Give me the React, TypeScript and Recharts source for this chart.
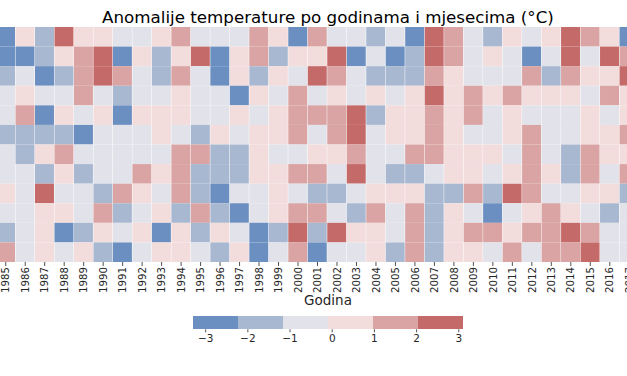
import React from "react";
import { BarChart, Bar, XAxis, YAxis, Cell } from "recharts";

// Godine (stupci) i mjeseci (redovi) toplinske karte
const years = [
  "1985", "1986", "1987", "1988", "1989", "1990", "1991", "1992", "1993", "1994", "1995",
  "1996", "1997", "1998", "1999", "2000", "2001", "2002", "2003", "2004", "2005", "2006",
  "2007", "2008", "2009", "2010", "2011", "2012", "2013", "2014", "2015", "2016", "2017",
];

// Anomalije po mjesecima (°C), jedna vrijednost po godini
const jan = [-2.6, 0.4, -1.5, 2.5, 0.3, 0.6, -0.5, -0.3, 0.7, 1.4, -0.6, -0.2, -0.8, 1.6, 0.5, -2.4, 1.3, -0.4, -0.7, -1.6, -0.3, -2.7, 2.8, 1.5, -0.5, -1.3, 0.2, -0.9, 0.6, 2.4, 1.7, 0.4, -2.5];
const feb = [-2.9, -2.5, -1.4, 0.8, 1.2, 2.6, -2.7, 0.3, -1.8, 0.5, 2.3, -2.6, 0.6, 1.8, -1.5, 0.2, 0.7, 2.4, -2.8, -0.6, -2.5, -1.7, 3.1, 1.4, -0.3, 0.4, -0.8, -3.3, -0.4, 2.7, -0.5, 2.5, 1.5];
const mar = [-1.6, -0.4, -2.5, -1.9, 1.5, 2.9, 1.3, -0.7, -1.4, 1.6, -0.2, -2.4, 0.5, -1.5, 0.8, -0.5, 2.5, 1.7, -0.9, -1.3, -2.0, -1.6, 1.4, 0.6, -0.3, -0.6, -0.4, 1.2, -1.8, 1.5, 0.4, 0.9, 2.6];
const apr = [-0.3, 0.5, -0.6, -0.8, 1.7, -0.2, -1.5, -0.4, -0.9, 0.3, -0.5, -0.7, -2.6, 0.7, -0.3, 1.4, -0.6, 0.4, -0.2, 0.8, -0.4, 0.2, 2.3, 0.6, 1.3, 0.5, 1.6, 0.3, 0.7, 0.9, -0.5, 1.2, 0.4];
const may = [-0.6, 1.3, -2.7, 0.4, -0.3, 0.6, -2.4, 0.2, 0.8, 0.5, -0.8, -0.4, 0.3, -0.7, 0.9, 1.5, 1.8, 1.4, 2.6, -1.4, 0.6, 0.3, 1.6, 0.7, 1.2, -0.5, 0.4, -0.2, -0.6, -0.9, 0.5, -0.3, 0.8];
const jun = [-1.8, -1.3, -1.6, -1.4, -2.5, -0.5, -0.2, -0.9, 0.6, -0.4, -1.7, 0.3, -0.6, 0.5, 0.2, 1.7, -0.3, 1.5, 2.7, -0.8, 0.7, 0.4, 1.3, 0.8, -0.4, -0.7, 0.6, 1.4, -0.5, -0.2, 0.3, 0.9, 1.1];
const jul = [-0.7, -1.5, 0.4, 1.5, -0.3, -0.6, -0.8, -0.4, -0.2, 1.6, 1.3, -1.9, -1.4, 0.7, -0.5, -0.9, 0.3, 0.6, 1.8, -0.6, -0.3, 1.2, 1.7, 0.5, 0.8, 0.2, -0.4, 1.5, -0.7, -1.3, 1.4, 0.6, 0.4];
const aug = [-0.4, -0.8, -1.6, 0.5, -1.3, -0.5, -0.2, 1.4, 0.3, 1.8, -1.5, -2.1, -1.7, 0.6, 0.8, 1.3, 1.6, -0.6, 2.5, -0.3, -1.4, -1.8, -0.7, 0.4, 0.2, -0.5, 0.7, 1.9, 0.5, -1.6, 1.3, -0.4, 1.5];
const sep = [0.6, -0.5, 2.6, -0.3, -0.7, -1.4, 1.5, 0.4, -0.6, 1.3, -1.7, -2.5, -0.4, -0.8, 0.7, -0.2, -1.5, -1.9, -0.5, 0.3, 0.8, 0.5, -1.3, -1.6, 1.4, -1.2, 2.4, 1.6, -0.3, -0.9, 0.2, 0.6, -1.5];
const oct = [-0.9, -0.4, 0.3, 0.7, -0.5, 1.6, -1.6, -0.3, 0.5, -1.4, 1.5, -1.8, -2.6, -0.6, 0.4, 1.3, 1.7, -0.2, -1.5, 1.4, -0.7, 1.8, -1.7, 0.6, -0.4, -2.5, -0.8, 0.3, 1.2, 0.7, -0.5, -1.4, -0.3];
const nov = [-1.5, -0.6, 0.5, -2.6, -1.7, 0.4, -0.3, 0.8, -2.9, 0.2, -1.4, 0.6, -0.5, -2.5, -1.6, 2.4, -1.3, 2.7, 0.5, 0.9, -0.8, 1.5, -1.9, 0.3, 1.6, 1.4, 0.7, 1.3, 1.7, 2.5, 1.2, -0.4, -0.6];
const dec = [1.4, -0.7, 0.6, -0.4, 0.3, -1.6, -2.7, -0.5, 0.8, 0.4, -0.3, -1.5, 0.5, -2.4, -0.8, 1.6, -2.6, -0.2, -0.6, 0.7, -1.4, 1.3, -1.7, 0.2, 0.6, -0.9, 1.5, -0.4, 1.8, 1.4, 2.6, -0.3, -0.5];

const months = [jan, feb, mar, apr, may, jun, jul, aug, sep, oct, nov, dec];
const monthKeys = ["m1", "m2", "m3", "m4", "m5", "m6", "m7", "m8", "m9", "m10", "m11", "m12"];

// Paleta u 6 razreda (plavo -> crveno)
const palette = ["#6b8fc0", "#a9b8d1", "#e2e3ea", "#f2dcdc", "#d9a4a3", "#c46b6a"];
const colorbarTicks = [-3, -2, -1, 0, 1, 2, 3];

const allValues = months.flat();
const vmin = Math.min(...allValues);
const vmax = Math.max(...allValues);
const step = (vmax - vmin) / palette.length;

const colorFor = (v: number) => {
  const idx = Math.floor((v - vmin) / step);
  return palette[Math.min(palette.length - 1, Math.max(0, idx))];
};

// Svaki redak je godina; mjeseci su složeni jedan na drugi (visina 1)
const heatData = years.map((year) => {
  const row: Record<string, string | number> = { year };
  monthKeys.forEach((k) => (row[k] = 1));
  return row;
});

// Skala boja: razredi složeni od vmin (os pomaknuta za vmin)
const barKeys = palette.map((_, i) => `c${i}`);
const colorbarData = [
  barKeys.reduce((row: Record<string, string | number>, k) => {
    row[k] = step;
    return row;
  }, { name: "cb" }),
];

const FONT = "DejaVu Sans";
const TEXT = "#262626";

const YearTick = ({ x, y, payload }: any) => (
  <text
    x={x}
    y={y}
    transform={`rotate(-90, ${x}, ${y})`}
    textAnchor="end"
    dy="0.36em"
    fontSize={10.2}
    fontFamily={FONT}
    fill={TEXT}
  >
    {payload.value}
  </text>
);

const minus = (v: number) => {
  const t = Math.round(v + vmin);
  return t < 0 ? `\u2212${-t}` : `${t}`;
};

export default function App() {
  return (
    <div
      style={{
        position: "fixed",
        left: 0,
        top: 0,
        width: 627,
        height: 376,
        overflow: "hidden",
        background: "#fff",
        fontFamily: FONT,
      }}
    >
      <svg width={627} height={376} style={{ position: "absolute", left: 0, top: 0 }}>
        <text x={328} y={23} textAnchor="middle" fontSize={16.7} fontFamily={FONT} fill="#000">
          Anomalije temperature po godinama i mjesecima (°C)
        </text>
        <text x={328} y={305} textAnchor="middle" fontSize={13.5} fontFamily={FONT} fill={TEXT}>
          Godina
        </text>
      </svg>

      <div style={{ position: "absolute", left: -3.7, top: 0 }}>
        <BarChart
          width={643}
          height={302}
          data={heatData}
          margin={{ top: 27, right: 0, bottom: 0, left: 0 }}
          barCategoryGap={0}
          barGap={0}
        >
          <XAxis
            dataKey="year"
            interval={0}
            height={40}
            axisLine={false}
            tickSize={4}
            tickMargin={1}
            tickLine={{ stroke: TEXT, strokeWidth: 0.8 }}
            tick={<YearTick />}
          />
          <YAxis hide reversed domain={[0, 12]} />
          {monthKeys.map((k, m) => (
            <Bar key={k} dataKey={k} stackId="heat" isAnimationActive={false}>
              {years.map((y, i) => (
                <Cell key={y} fill={colorFor(months[m][i])} />
              ))}
            </Bar>
          ))}
        </BarChart>
      </div>

      <div style={{ position: "absolute", left: 193.3, top: 316 }}>
        <BarChart
          width={270}
          height={40}
          layout="vertical"
          data={colorbarData}
          margin={{ top: 0, right: 0, bottom: 0, left: 0 }}
          barCategoryGap={0}
        >
          <XAxis
            type="number"
            domain={[0, vmax - vmin]}
            ticks={colorbarTicks.map((t) => t - vmin)}
            allowDataOverflow
            axisLine={false}
            height={26.7}
            tickSize={3}
            tickMargin={2}
            tickLine={{ stroke: TEXT, strokeWidth: 0.8 }}
            tickFormatter={minus}
            tick={{ fontSize: 10.5, fill: TEXT, fontFamily: FONT }}
          />
          <YAxis type="category" dataKey="name" hide />
          {barKeys.map((k, i) => (
            <Bar key={k} dataKey={k} stackId="cb" fill={palette[i]} isAnimationActive={false} />
          ))}
        </BarChart>
      </div>
    </div>
  );
}
